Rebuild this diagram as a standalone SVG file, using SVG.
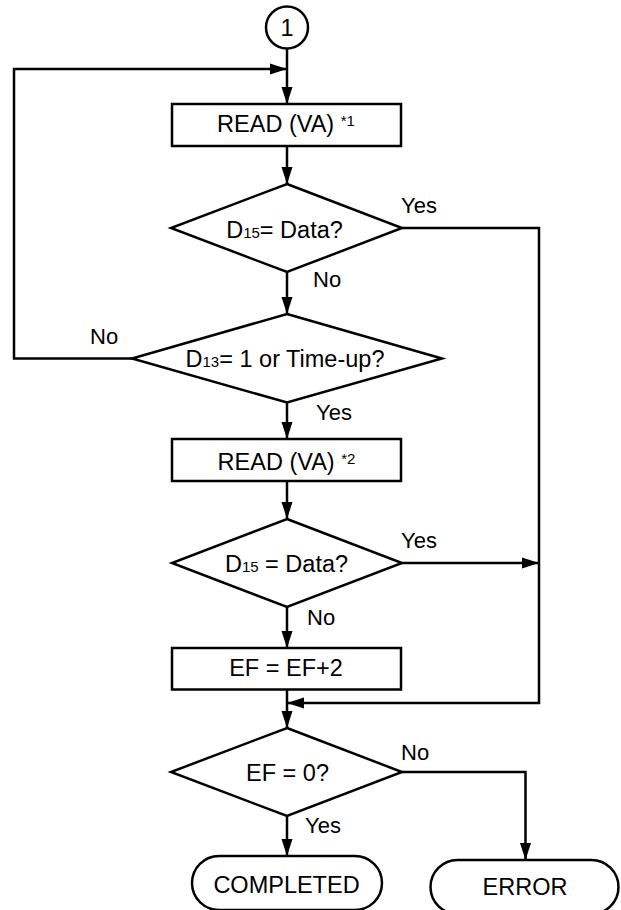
<svg xmlns="http://www.w3.org/2000/svg" width="621" height="910" viewBox="0 0 621 910">
<style>
.s{fill:#fff;stroke:#000;stroke-width:2.5}
.c{fill:none;stroke:#000;stroke-width:2.5}
.t{font-family:"Liberation Sans",Arial,sans-serif;font-size:23.5px;fill:#000;text-anchor:middle}
.l{font-family:"Liberation Sans",Arial,sans-serif;font-size:22px;fill:#000}
.sm{font-size:15px}
</style>
<defs>
<marker id="ah" markerUnits="userSpaceOnUse" markerWidth="17" markerHeight="11" refX="17" refY="5.5" orient="auto" overflow="visible">
<path d="M0,0 L17,5.5 L0,11 Z" fill="#000"/>
</marker>
</defs>
<rect width="621" height="910" fill="#fff"/>
<g id="connectors">
<line class="c" x1="287" y1="48.5" x2="287" y2="104" marker-end="url(#ah)"/>
<polyline class="c" points="132,358.5 14,358.5 14,69 287,69" marker-end="url(#ah)"/>
<line class="c" x1="287" y1="146" x2="287" y2="184" marker-end="url(#ah)"/>
<line class="c" x1="287" y1="272" x2="287" y2="314" marker-end="url(#ah)"/>
<polyline class="c" points="402,228 539,228 539,703 287,703" marker-end="url(#ah)"/>
<line class="c" x1="287" y1="402.5" x2="287" y2="439" marker-end="url(#ah)"/>
<line class="c" x1="287" y1="481" x2="287" y2="519" marker-end="url(#ah)"/>
<line class="c" x1="402" y1="563" x2="539" y2="563" marker-end="url(#ah)"/>
<line class="c" x1="287" y1="607" x2="287" y2="648" marker-end="url(#ah)"/>
<line class="c" x1="287" y1="689.5" x2="287" y2="728" marker-end="url(#ah)"/>
<line class="c" x1="287" y1="816" x2="287" y2="856" marker-end="url(#ah)"/>
<polyline class="c" points="402,772 525.5,772 525.5,860" marker-end="url(#ah)"/>
<text class="l" x="401" y="213">Yes</text>
<text class="l" x="313" y="287">No</text>
<text class="l" x="90" y="344">No</text>
<text class="l" x="316" y="420">Yes</text>
<text class="l" x="401" y="548">Yes</text>
<text class="l" x="307" y="625">No</text>
<text class="l" x="401" y="760">No</text>
<text class="l" x="305" y="833">Yes</text>
</g>
<g id="start">
<circle class="s" cx="287" cy="27.5" r="21"/>
<text class="t" x="287" y="36">1</text>
</g>
<g id="read1">
<rect class="s" x="172" y="104" width="229" height="42"/>
<text class="t" x="286" y="131.5">READ (VA) <tspan class="sm" dy="-6">*1</tspan></text>
</g>
<g id="dec1">
<polygon class="s" points="287,184 402,228 287,272 171,228"/>
<text class="t" x="284.5" y="237.5">D<tspan class="sm">15</tspan>= Data?</text>
</g>
<g id="dec2">
<polygon class="s" points="287,314 442,358.5 287,402.5 132,358.5"/>
<text class="t" x="285" y="367">D<tspan class="sm">13</tspan>= 1 or Time-up?</text>
</g>
<g id="read2">
<rect class="s" x="172" y="439" width="229" height="42"/>
<text class="t" x="286.5" y="470">READ (VA) <tspan class="sm" dy="-6">*2</tspan></text>
</g>
<g id="dec3">
<polygon class="s" points="287,519 402,563 287,607 172,563"/>
<text class="t" x="286.5" y="571.5">D<tspan class="sm">15</tspan> = Data?</text>
</g>
<g id="ef">
<rect class="s" x="172" y="648" width="229" height="41.5"/>
<text class="t" x="286" y="676">EF = EF+2</text>
</g>
<g id="dec4">
<polygon class="s" points="287,728 402,772 287,816 171,772"/>
<text class="t" x="287.5" y="780.5">EF = 0?</text>
</g>
<g id="completed">
<rect class="s" x="192" y="856" width="190" height="54" rx="27" ry="27"/>
<text class="t" x="286.5" y="893">COMPLETED</text>
</g>
<g id="error">
<rect class="s" x="430.5" y="860" width="188" height="54" rx="27" ry="27"/>
<text class="t" x="525" y="895">ERROR</text>
</g>
</svg>
